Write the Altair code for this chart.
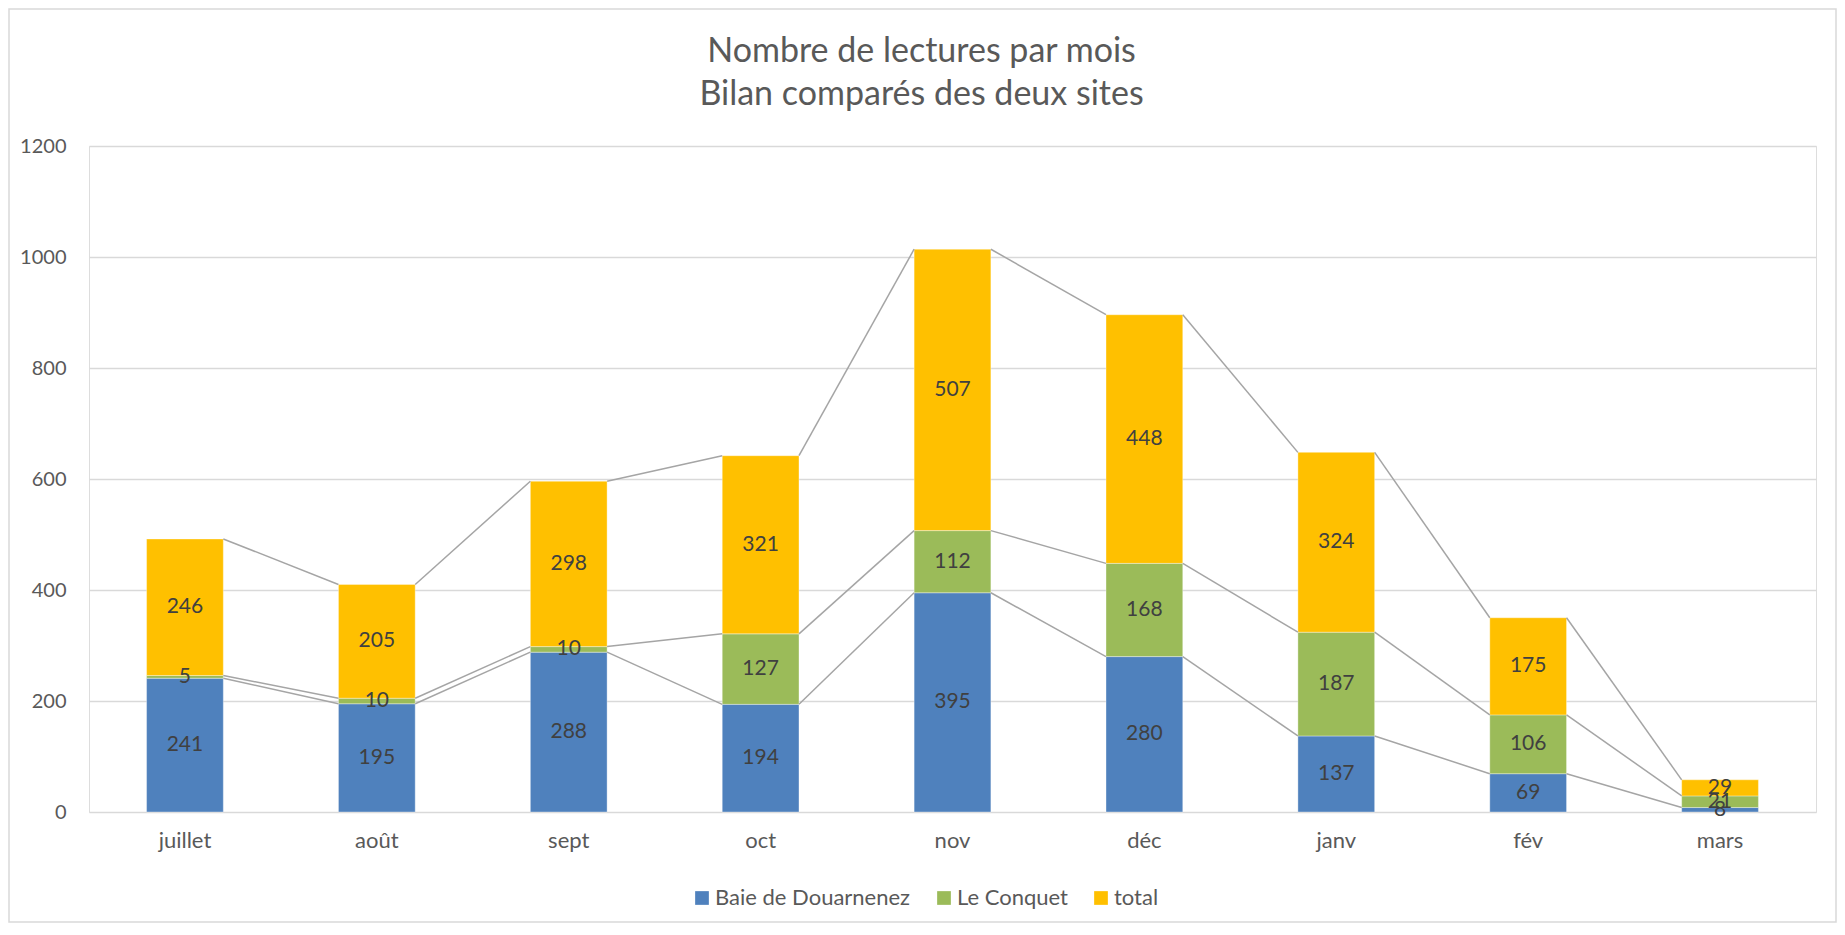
import altair as alt
import pandas as pd
import numpy as np

months = ["juillet", "août", "sept", "oct", "nov", "déc", "janv", "fév", "mars"]
series = ["Baie de Douarnenez", "Le Conquet", "total"]
baie = [241, 195, 288, 194, 395, 280, 137, 69, 8]
conquet = [5, 10, 10, 127, 112, 168, 187, 106, 21]
total = [246, 205, 298, 321, 507, 448, 324, 175, 29]
colors = ["#4F81BD", "#9BBB59", "#FFC000"]
y_ticks = [0, 200, 400, 600, 800, 1000, 1200]
title_lines = ["Nombre de lectures par mois", "Bilan comparés des deux sites"]

values = [baie, conquet, total]
rows = []
for si, (name, vals) in enumerate(zip(series, values)):
    for m, v in zip(months, vals):
        rows.append({"month": m, "series": name, "idx": si, "value": v})
df = pd.DataFrame(rows)

cum = np.cumsum(np.array(values), axis=0)
line_rows = []
for si, name in enumerate(series):
    for i in range(len(months) - 1):
        line_rows.append({"month": months[i], "next": months[i + 1],
                          "top": int(cum[si][i]), "next_top": int(cum[si][i + 1]),
                          "series": name})
lines_df = pd.DataFrame(line_rows)

W, H = 1727, 666
FONT = "Lato"
half_bar = W / 9 * 0.4 / 2

xscale = alt.Scale(domain=months, paddingInner=0.6, paddingOuter=0.3)
yscale = alt.Scale(domain=[0, 1200], nice=False)

xenc = alt.X("month:N", sort=months, scale=xscale,
             axis=alt.Axis(title=None, labelAngle=0, domain=False, ticks=False,
                           labelFontSize=22, labelColor="#595959", labelPadding=18,
                           labelFont=FONT, grid=False))

stacked = (alt.Chart(df)
           .transform_stack(stack="value", groupby=["month"], as_=["y0", "y1"],
                            sort=[alt.SortField("idx", order="ascending")])
           .transform_calculate(mid="(datum.y0 + datum.y1) / 2"))

bars = stacked.mark_bar(stroke="white", strokeWidth=0.6, strokeOpacity=0.6).encode(
    x=xenc,
    y=alt.Y("y0:Q", scale=yscale,
            axis=alt.Axis(title=None, values=y_ticks, domain=False, ticks=False,
                          format="d",
                          labelFontSize=20, labelColor="#595959", labelFont=FONT,
                          labelPadding=23, gridColor="#D9D9D9", gridWidth=1.5)),
    y2="y1:Q",
    color=alt.Color("series:N", scale=alt.Scale(domain=series, range=colors),
                    legend=alt.Legend(title=None, orient="none", legendX=602, legendY=741,
                                      direction="horizontal", symbolType="square",
                                      symbolSize=188, symbolStrokeWidth=0,
                                      labelFontSize=22, labelColor="#595959",
                                      labelFont=FONT, columnPadding=22, labelOffset=2,
                                      labelLimit=0, padding=0)),
)

rules = alt.Chart(lines_df).mark_rule(
    color="#A5A5A5", strokeWidth=1.5, xOffset=half_bar, x2Offset=-half_bar
).encode(
    x=alt.X("month:N", sort=months),
    x2="next:N",
    y=alt.Y("top:Q"),
    y2="next_top:Q",
)

labels = stacked.mark_text(fontSize=21, color="#404040", font=FONT).encode(
    x=alt.X("month:N", sort=months),
    y=alt.Y("mid:Q"),
    text="value:Q",
)

one = pd.DataFrame({"a": [0]})
border = alt.Chart(one).mark_rect(
    fillOpacity=0, stroke="#D9D9D9", strokeWidth=1.5
).encode(x=alt.value(-80), x2=alt.value(1747), y=alt.value(-137), y2=alt.value(776))

title1 = alt.Chart(one).mark_text(
    fontSize=34, font=FONT, color="#595959", align="center", baseline="alphabetic"
).encode(x=alt.value(832.5), y=alt.value(-84.5), text=alt.value(title_lines[0]))
title2 = alt.Chart(one).mark_text(
    fontSize=34, font=FONT, color="#595959", align="center", baseline="alphabetic"
).encode(x=alt.value(832.5), y=alt.value(-41), text=alt.value(title_lines[1]))

chart = alt.layer(border, bars, rules, labels, title1, title2).properties(
    width=W, height=H,
    autosize=alt.AutoSizeParams(type="none"),
    padding={"left": 81, "top": 138, "right": 21, "bottom": 111},
).configure_view(stroke=None).configure(background="white")

chart.save("out.html", embed_options={"renderer": "svg", "actions": False})
